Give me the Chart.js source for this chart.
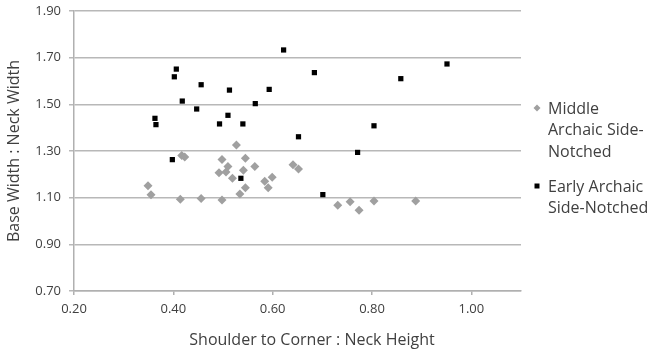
<!DOCTYPE html>
<html>
<head>
<meta charset="utf-8">
<script src="https://cdn.jsdelivr.net/npm/chart.js@4"></script>
<style>
  html, body { margin: 0; padding: 0; background: #fff; }
  #wrap { width: 650px; height: 352px; position: relative; }
</style>
</head>
<body>
<div id="wrap"><canvas id="scatterChart"></canvas></div>
<script>
// Middle Archaic Side-Notched (gray diamonds)
const middleX = [0.527, 0.417, 0.423, 0.498, 0.545, 0.510, 0.564, 0.492, 0.506, 0.541,
                 0.519, 0.584, 0.599, 0.591, 0.545, 0.534, 0.349, 0.355, 0.414, 0.456,
                 0.498, 0.641, 0.652, 0.731, 0.756, 0.774, 0.804, 0.888];
const middleY = [1.326, 1.281, 1.274, 1.264, 1.269, 1.234, 1.234, 1.207, 1.210, 1.217,
                 1.183, 1.170, 1.187, 1.143, 1.143, 1.116, 1.151, 1.113, 1.093, 1.096,
                 1.090, 1.241, 1.223, 1.068, 1.083, 1.046, 1.086, 1.086];

// Early Archaic Side-Notched (black squares)
const earlyX = [0.622, 0.406, 0.402, 0.456, 0.513, 0.593, 0.418, 0.447, 0.565, 0.363,
                0.365, 0.493, 0.510, 0.540, 0.652, 0.684, 0.858, 0.951, 0.804, 0.398,
                0.536, 0.771, 0.701];
const earlyY = [1.733, 1.651, 1.618, 1.584, 1.561, 1.564, 1.514, 1.480, 1.503, 1.440,
                1.413, 1.416, 1.453, 1.416, 1.361, 1.636, 1.610, 1.673, 1.408, 1.263,
                1.183, 1.294, 1.113];

const seriesNames = [['Middle', 'Archaic Side-', 'Notched'], ['Early Archaic', 'Side-Notched']];
const xTicks = [0.2, 0.4, 0.6, 0.8, 1.0];
const yTicks = [0.7, 0.9, 1.1, 1.3, 1.5, 1.7, 1.9];
const xTitle = 'Shoulder to Corner : Neck Height';
const yTitle = 'Base Width : Neck Width';

const FONT = '"Open Sans", sans-serif';
const TEXT = '#404040';
const toPoints = (xs, ys) => xs.map((x, i) => ({ x: x, y: ys[i] }));

// legend + axis titles drawn by hand so the labels can wrap / sit like the original
const sideLegend = {
    id: 'sideLegend',
    afterDraw(chart) {
        const ctx = chart.ctx;
        const ds = chart.data.datasets;
        const tops = [108, 186];
        ctx.save();
        ctx.font = '16px ' + FONT;
        ctx.textBaseline = 'middle';
        ctx.textAlign = 'left';
        seriesNames.forEach((lines, i) => {
            const y0 = tops[i];
            ctx.fillStyle = ds[i].backgroundColor;
            ctx.beginPath();
            if (i === 0) {
                ctx.moveTo(537, y0 - 3.5); ctx.lineTo(540.5, y0);
                ctx.lineTo(537, y0 + 3.5); ctx.lineTo(533.5, y0);
            } else {
                ctx.rect(534.5, y0 - 2.5, 5, 5);
            }
            ctx.closePath();
            ctx.fill();
            ctx.fillStyle = TEXT;
            lines.forEach((t, j) => ctx.fillText(t, 548, y0 + 1 + j * 21.8));
        });

        // axis titles
        ctx.textAlign = 'center';
        ctx.fillText(xTitle, 312, 340);
        ctx.translate(14, 151);
        ctx.rotate(-Math.PI / 2);
        ctx.fillText(yTitle, 0, 0);
        ctx.restore();
    }
};

const chartCtx = document.getElementById('scatterChart').getContext('2d');
const scatterChart = new Chart(chartCtx, {
    type: 'scatter',
    data: {
        datasets: [{
            label: 'Middle Archaic Side-Notched',
            data: toPoints(middleX, middleY),
            pointStyle: 'rectRot',
            pointRadius: 4.5,
            pointHoverRadius: 4.5,
            borderWidth: 0,
            backgroundColor: '#a0a0a0',
            borderColor: '#a0a0a0'
        }, {
            label: 'Early Archaic Side-Notched',
            data: toPoints(earlyX, earlyY),
            pointStyle: 'rect',
            pointRadius: 3.7,
            pointHoverRadius: 3.7,
            borderWidth: 0,
            backgroundColor: '#000000',
            borderColor: '#000000'
        }]
    },
    options: {
        responsive: true,
        maintainAspectRatio: false,
        animation: false,
        layout: { padding: { top: 11, right: 129, left: 0, bottom: 0 } },
        plugins: {
            legend: { display: false },
            tooltip: { enabled: false }
        },
        scales: {
            x: {
                type: 'linear',
                min: 0.2,
                max: 1.1,
                afterBuildTicks: (scale) => { scale.ticks = xTicks.map(v => ({ value: v })); },
                afterFit: (scale) => { scale.height = 61; },
                border: { color: '#b0b0b0', width: 1.5 },
                grid: { drawOnChartArea: false, drawTicks: true, tickLength: 4, color: '#b0b0b0', lineWidth: 1.5 },
                ticks: {
                    padding: 6,
                    color: TEXT,
                    font: { family: FONT, size: 13 },
                    callback: (v) => v.toFixed(2)
                }
            },
            y: {
                type: 'linear',
                min: 0.7,
                max: 1.9,
                afterBuildTicks: (scale) => { scale.ticks = yTicks.map(v => ({ value: v })); },
                afterFit: (scale) => {
                    scale.width = 74;
                    scale.paddingTop = 0;
                    scale.paddingBottom = 0;
                },
                border: { color: '#b0b0b0', width: 1.5 },
                grid: { color: '#b8b8b8', lineWidth: 1.5, drawTicks: true, tickLength: 5 },
                ticks: {
                    padding: 8,
                    color: TEXT,
                    font: { family: FONT, size: 13 },
                    callback: (v) => v.toFixed(2)
                }
            }
        }
    },
    plugins: [sideLegend]
});
</script>
</body>
</html>
